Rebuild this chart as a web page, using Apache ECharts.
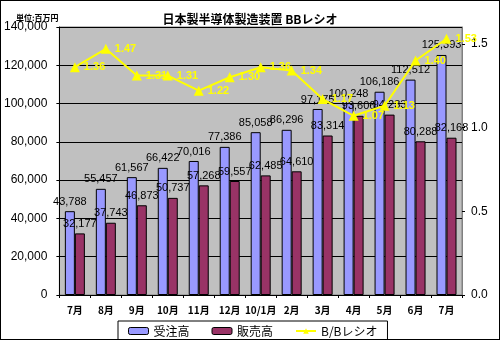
<!DOCTYPE html>
<html><head><meta charset="utf-8">
<script src="https://cdn.jsdelivr.net/npm/echarts@6/dist/echarts.min.js"></script>
<style>
html,body{margin:0;padding:0;background:#fff;}
#c{width:500px;height:340px;box-sizing:border-box;border:1px solid #000;}
</style></head>
<body><div id="c"></div>
<script>
const categories = ['7月','8月','9月','10月','11月','12月','10/1月','2月','3月','4月','5月','6月','7月'];
const orders = [43788,55457,61567,66422,70016,77386,85058,86296,97175,100248,106186,112512,125393];
const sales = [32177,37743,46873,50737,57268,59557,62485,64610,83314,93606,94233,80288,82168];
const bbRatio = [1.36,1.47,1.31,1.31,1.22,1.30,1.36,1.34,1.17,1.07,1.13,1.40,1.53];
const leftTicks = [0,20000,40000,60000,80000,100000,120000,140000];
const rightTicks = [0,0.5,1.0,1.5];

const FF = "'Liberation Sans','Noto Sans CJK JP',sans-serif";
const chart = echarts.init(document.getElementById('c'), null, {renderer:'canvas'});
const fmt = v => v.toLocaleString('en-US');
chart.setOption({
  animation:false,
  textStyle:{fontFamily:FF},
  title:[
    {text:'日本製半導体製造装置 BBレシオ', left:'center', top:7,
     textStyle:{fontSize:12, fontWeight:'bold', color:'#000', fontFamily:"'Noto Sans CJK JP',sans-serif"}},
    {text:'単位:百万円', left:10, top:8,
     textStyle:{fontSize:8, fontWeight:'bold', color:'#000', fontFamily:"'Noto Sans CJK JP',sans-serif"}}
  ],
  grid:{left:55, right:37, top:26, bottom:44, show:true, backgroundColor:'#C0C0C0', borderColor:'#808080', borderWidth:1},
  legend:{
    left:117, top:320, width:260, itemGap:22, padding:[4,10,6,10],
    borderColor:'#000', borderWidth:1, backgroundColor:'#fff',
    textStyle:{fontSize:12, color:'#000', fontFamily:"'Noto Sans CJK JP',sans-serif"},
    itemWidth:20, itemHeight:7,
    data:[
      {name:'受注高', itemStyle:{borderColor:'#000', borderWidth:1}},
      {name:'販売高', itemStyle:{borderColor:'#000', borderWidth:1}},
      {name:'B/Bレシオ'}
    ]
  },
  xAxis:{
    type:'category', data:categories,
    axisLine:{lineStyle:{color:'#000', width:1}},
    axisTick:{show:true, length:3, lineStyle:{color:'#000'}},
    axisLabel:{fontSize:10, fontWeight:'bold', color:'#000', margin:10, interval:0, fontFamily:"'Noto Sans CJK JP',sans-serif"}
  },
  yAxis:[
    {type:'value', min:leftTicks[0], max:leftTicks[leftTicks.length-1], interval:20000,
     axisLine:{show:true, lineStyle:{color:'#000'}},
     axisTick:{show:true, length:3, lineStyle:{color:'#000'}},
     splitLine:{show:true, lineStyle:{color:'#000', width:1}},
     axisLabel:{fontSize:12, color:'#000', margin:12, formatter:v=>fmt(v)}},
    {type:'value', min:0, max:1.6, interval:0.5,
     axisLine:{show:true, lineStyle:{color:'#808080'}},
     axisTick:{show:true, length:3, lineStyle:{color:'#000'}},
     splitLine:{show:false},
     axisLabel:{fontSize:12, color:'#000', margin:9, showMaxLabel:false,
       formatter:v=> rightTicks.some(t=>Math.abs(t-v)<1e-6) ? v.toFixed(1) : ''}}
  ],
  series:[
    {name:'受注高', type:'bar', data:orders, barWidth:10, barGap:'0%',
     itemStyle:{color:'#9999FF', borderColor:'#000', borderWidth:1},
     label:{show:true, position:'top', distance:4, fontSize:11, color:'#000', formatter:p=>fmt(p.value)}},
    {name:'販売高', type:'bar', data:sales, barWidth:10, barGap:'0%',
     itemStyle:{color:'#993366', borderColor:'#000', borderWidth:1},
     label:{show:true, position:'top', distance:4, fontSize:11, color:'#000', formatter:p=>fmt(p.value)}},
    {name:'B/Bレシオ', type:'line', yAxisIndex:1, data:bbRatio,
     symbol:'triangle', symbolSize:10,
     lineStyle:{color:'#FFFF00', width:2}, itemStyle:{color:'#FFFF00'},
     label:{show:true, position:'right', distance:4, fontSize:11, fontWeight:'bold', color:'#FFFF00', formatter:p=>p.value.toFixed(2)}}
  ]
});
</script></body></html>
